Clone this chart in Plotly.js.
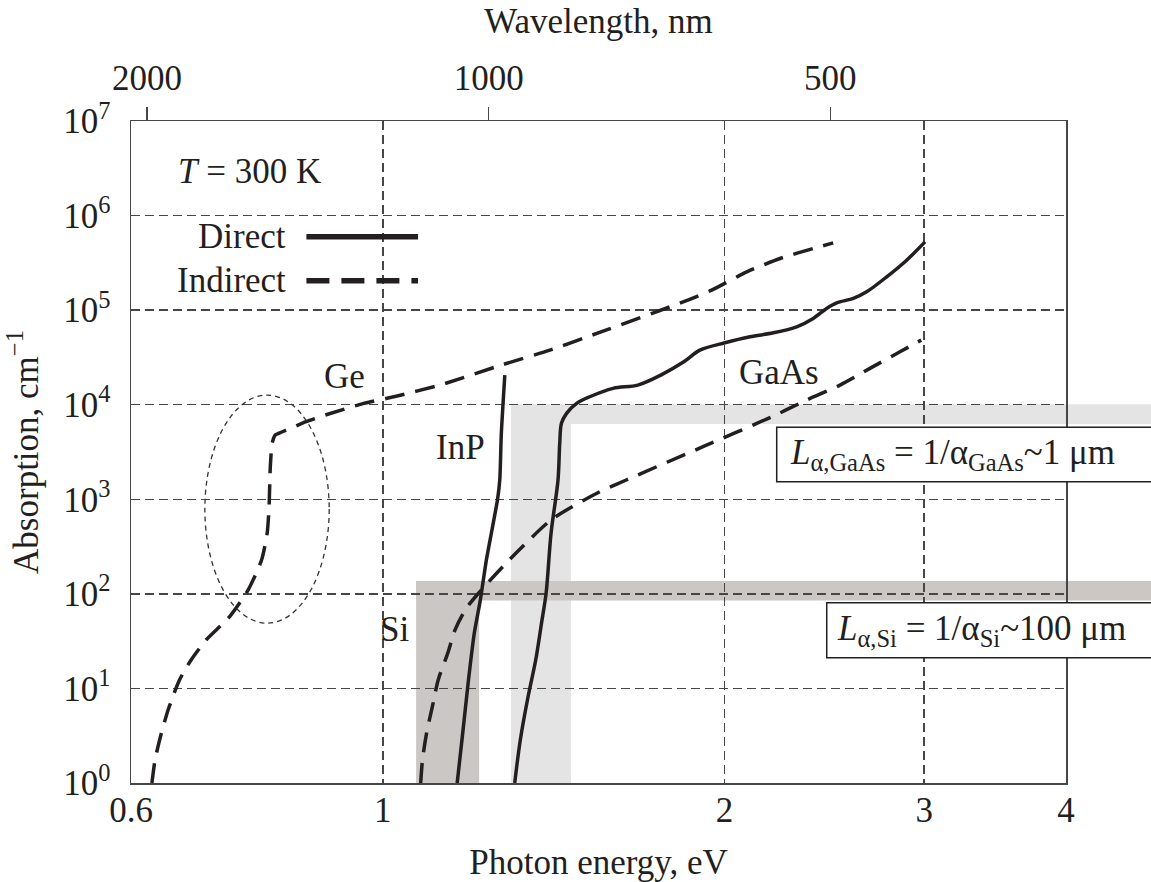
<!DOCTYPE html>
<html>
<head>
<meta charset="utf-8">
<script src="https://cdn.plot.ly/plotly-3.0.1.min.js"></script>
<style>
  html, body { margin: 0; padding: 0; background: #ffffff; }
  #chart { width: 1151px; height: 882px; }
</style>
</head>
<body>
<div id="chart"></div>
<script>
// ---------------- data (photon energy in eV, absorption in cm^-1) ----------------
const geEnergy = [0.626, 0.630, 0.637, 0.647, 0.662, 0.678, 0.699, 0.733, 0.761, 0.782, 0.791, 0.794, 0.796, 0.799, 0.804, 0.816, 0.856, 0.890, 0.962, 1.023, 1.123, 1.272, 1.404, 1.544, 1.857, 1.949, 2.093, 2.239, 2.395, 2.494];
const geAlpha  = [1, 1.76, 3.1, 5.95, 12.3, 20.1, 32.7, 57.5, 110, 228, 441, 836, 2210, 3910, 4780, 5180, 6610, 7780, 10330, 12140, 16140, 26240, 37790, 56760, 127500, 162700, 253900, 351800, 448600, 514000];

const siEnergy = [1.080, 1.084, 1.093, 1.106, 1.119, 1.141, 1.158, 1.185, 1.218, 1.277, 1.322, 1.407, 1.544, 1.639, 1.915, 2.202, 2.363, 2.529, 2.687, 2.856, 2.982];
const siAlpha  = [1, 1.76, 3.37, 6.45, 12.3, 23.6, 41.6, 70.6, 105.7, 196, 299, 604, 1158, 1600, 3597, 7461, 11200, 16130, 24220, 36270, 48200];

const inpEnergy = [1.163, 1.177, 1.190, 1.204, 1.219, 1.234, 1.262, 1.268, 1.272, 1.281];
const inpAlpha  = [1, 3.66, 12.3, 38.4, 86.4, 228.6, 983, 1600, 4983, 20580];

const gaasEnergy = [1.307, 1.322, 1.343, 1.364, 1.380, 1.393, 1.407, 1.427, 1.432, 1.437, 1.452, 1.482, 1.522, 1.596, 1.678, 1.758, 1.842, 1.903, 2.002, 2.107, 2.209, 2.316, 2.395, 2.461, 2.512, 2.598, 2.669, 2.780, 2.895, 3.005];
const gaasAlpha  = [1, 2.87, 8.22, 20.1, 49, 101.7, 437.6, 1600, 3907, 6356, 8104, 10330, 12140, 14890, 16130, 20580, 28430, 37800, 45140, 52240, 57570, 66620, 81720, 104200, 119500, 132900, 156100, 224800, 337500, 526700];

// absorption-length bands (energy window, absorption window)
const siBandEnergy   = [1.070, 1.216];
const siBandAlpha    = [85, 137];
const gaasBandEnergy = [1.297, 1.465];
const gaasBandAlpha  = [6250, 10090];

// dashed ellipse around the Ge direct-gap feature
const ellipseEnergy = [0.697, 0.897];
const ellipseAlpha  = [49, 12650];

// curve labels
const labelNames  = ['Ge', 'InP', 'Si', 'GaAs'];
const labelEnergy = [0.926, 1.172, 1.025, 2.235];
const labelAlpha  = [19700, 3530, 42.5, 21900];

// ticks
const energyTicks      = [0.6, 1, 2, 3, 4];
const energyTickText   = ['0.6', '1', '2', '3', '4'];
const wavelengthTicks  = [2000, 1000, 500];
const wavelengthTickText = ['2000', '1000', '500'];
const alphaTicks    = [1, 10, 100, 1e3, 1e4, 1e5, 1e6, 1e7];
const alphaTickText = ['10<sup>0</sup>', '10<sup>1</sup>', '10<sup>2</sup>', '10<sup>3</sup>', '10<sup>4</sup>', '10<sup>5</sup>', '10<sup>6</sup>', '10<sup>7</sup>'];

const HC = 1239.84; // eV*nm
const E_MIN = 0.6, E_MAX = 4;

// ---------------- styling ----------------
const FONT = 'Liberation Serif, "Times New Roman", Times, serif';
const INK = '#231f20';
const GRID = '#464646';
const FS = 35;
const CURVE_W = 3.5;
const DASH = '20px,11px';
const LIGHT = '#e4e4e4';
const DARK = '#cbc7c4';

function curve(x, y, dashed, smooth) {
  return {
    type: 'scatter', mode: 'lines', x: x, y: y,
    line: { color: INK, width: CURVE_W, dash: dashed ? DASH : 'solid', shape: 'spline', smoothing: smooth },
    hoverinfo: 'skip', showlegend: false
  };
}

const traces = [
  curve(geEnergy, geAlpha, true, 0.6),
  curve(siEnergy, siAlpha, true, 0.8),
  curve(inpEnergy, inpAlpha, false, 0.6),
  curve(gaasEnergy, gaasAlpha, false, 0.9),
  { type: 'scatter', mode: 'markers', x: wavelengthTicks, y: [1, 1, 1], xaxis: 'x2', yaxis: 'y',
    marker: { opacity: 0, size: 1 }, hoverinfo: 'skip', showlegend: false }
];

function band(x0, x1, y0, y1, color, xref) {
  return { type: 'rect', xref: xref || 'x', yref: 'y', x0: x0, x1: x1, y0: y0, y1: y1,
           fillcolor: color, line: { width: 0 }, layer: 'below' };
}

const shapes = [
  // GaAs (light) band: vertical strip + horizontal strip + extension beyond the frame
  band(gaasBandEnergy[0], gaasBandEnergy[1], alphaTicks[0], gaasBandAlpha[1], LIGHT),
  band(gaasBandEnergy[0], E_MAX, gaasBandAlpha[0], gaasBandAlpha[1], LIGHT),
  band(1, 1.3, gaasBandAlpha[0], gaasBandAlpha[1], LIGHT, 'paper'),
  // Si (dark) band
  band(siBandEnergy[0], siBandEnergy[1], alphaTicks[0], siBandAlpha[1], DARK),
  band(siBandEnergy[0], E_MAX, siBandAlpha[0], siBandAlpha[1], DARK),
  band(1, 1.3, siBandAlpha[0], siBandAlpha[1], DARK, 'paper'),
  // ellipse
  { type: 'circle', xref: 'x', yref: 'y', x0: ellipseEnergy[0], x1: ellipseEnergy[1],
    y0: ellipseAlpha[0], y1: ellipseAlpha[1], line: { color: '#333333', width: 1.3, dash: '5px,4px' }, layer: 'above' },
  // legend lines
  { type: 'line', xref: 'paper', yref: 'paper', x0: 0.1876, x1: 0.307, y0: 0.825, y1: 0.825,
    line: { color: INK, width: 5.5 }, layer: 'above' },
  { type: 'line', xref: 'paper', yref: 'paper', x0: 0.1876, x1: 0.307, y0: 0.7588, y1: 0.7588,
    line: { color: INK, width: 5.5, dash: '23px,12px' }, layer: 'above' },
  // boxes for absorption-length notes
  { type: 'rect', xref: 'paper', yref: 'paper', x0: 0.6906, x1: 1.15, y0: 0.4551, y1: 0.5373,
    fillcolor: '#ffffff', line: { color: INK, width: 1.5 }, layer: 'above' },
  { type: 'rect', xref: 'paper', yref: 'paper', x0: 0.7441, x1: 1.15, y0: 0.1893, y1: 0.2724,
    fillcolor: '#ffffff', line: { color: INK, width: 1.5 }, layer: 'above' }
];

const textFont = { family: FONT, size: FS, color: INK };
const annotations = [
  { xref: 'paper', yref: 'paper', x: 0.0481, y: 0.9234, xanchor: 'left', yanchor: 'middle',
    text: '<i>T</i> = 300 K', showarrow: false, font: textFont },
  { xref: 'paper', yref: 'paper', x: 0.1682, y: 0.825, xanchor: 'right', yanchor: 'middle',
    text: 'Direct', showarrow: false, font: textFont },
  { xref: 'paper', yref: 'paper', x: 0.1682, y: 0.7588, xanchor: 'right', yanchor: 'middle',
    text: 'Indirect', showarrow: false, font: textFont },
  { xref: 'paper', yref: 'paper', x: 0.703, y: 0.4962, xanchor: 'left', yanchor: 'middle',
    text: '<i>L</i><sub>α,GaAs</sub> = 1/α<sub>GaAs</sub>~1 μm', showarrow: false, font: textFont },
  { xref: 'paper', yref: 'paper', x: 0.7529, y: 0.2308, xanchor: 'left', yanchor: 'middle',
    text: '<i>L</i><sub>α,Si</sub> = 1/α<sub>Si</sub>~100 μm', showarrow: false, font: textFont }
];
labelNames.forEach(function (name, i) {
  annotations.push({ xref: 'x', yref: 'y', x: Math.log10(labelEnergy[i]), y: Math.log10(labelAlpha[i]),
    xanchor: 'center', yanchor: 'middle', text: name, showarrow: false, font: textFont });
});

const layout = {
  width: 1151, height: 882, autosize: false,
  margin: { l: 131, r: 85, t: 121, b: 99, pad: 0 },
  paper_bgcolor: '#ffffff', plot_bgcolor: '#ffffff',
  showlegend: false,
  font: { family: FONT, size: FS, color: INK },
  xaxis: {
    type: 'log', range: [Math.log10(E_MIN), Math.log10(E_MAX)], autorange: false,
    tickmode: 'array', tickvals: energyTicks, ticktext: energyTickText,
    ticks: '', ticklen: 0, ticklabelstandoff: -5,
    showgrid: true, gridcolor: GRID, gridwidth: 1.5, griddash: '9px,5px',
    showline: true, mirror: true, linecolor: GRID, linewidth: 1.5,
    tickfont: { family: FONT, size: FS, color: INK },
    title: { text: 'Photon energy, eV', font: { family: FONT, size: FS, color: INK }, standoff: 26 },
    automargin: false, fixedrange: true
  },
  xaxis2: {
    type: 'log', overlaying: 'x', side: 'top', anchor: 'y',
    range: [Math.log10(HC / E_MIN), Math.log10(HC / E_MAX)], autorange: false,
    tickmode: 'array', tickvals: wavelengthTicks, ticktext: wavelengthTickText,
    ticks: 'outside', ticklen: 13, tickwidth: 1.5, tickcolor: GRID, ticklabelstandoff: 3,
    showgrid: false, showline: false,
    tickfont: { family: FONT, size: FS, color: INK },
    title: { text: 'Wavelength, nm', font: { family: FONT, size: FS, color: INK }, standoff: 14 },
    automargin: false, fixedrange: true
  },
  yaxis: {
    type: 'log', range: [0, 7], autorange: false,
    tickmode: 'array', tickvals: alphaTicks, ticktext: alphaTickText,
    ticks: '', ticklen: 0, ticklabelstandoff: 12,
    showgrid: true, gridcolor: GRID, gridwidth: 1.5, griddash: '9px,5px',
    showline: true, mirror: true, linecolor: GRID, linewidth: 1.5,
    tickfont: { family: FONT, size: FS, color: INK },
    title: { text: 'Absorption, cm<sup>−1</sup>', font: { family: FONT, size: FS, color: INK }, standoff: 14 },
    automargin: false, fixedrange: true
  },
  shapes: shapes,
  annotations: annotations
};

Plotly.newPlot('chart', traces, layout, { displayModeBar: false, staticPlot: true });
</script>
</body>
</html>
